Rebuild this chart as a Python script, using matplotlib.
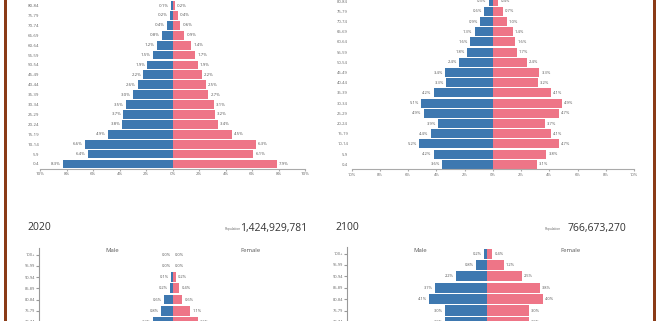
import matplotlib
matplotlib.use("Agg")
import matplotlib.pyplot as plt
from matplotlib.patches import Rectangle

plt.rcParams['font.family'] = ['Open Sans', 'DejaVu Sans']

# age groups (bottom to top) for the two top pyramids
ages_top = ['0-4', '5-9', '10-14', '15-19', '20-24', '25-29', '30-34', '35-39',
            '40-44', '45-49', '50-54', '55-59', '60-64', '65-69', '70-74', '75-79', '80-84']

# top-left pyramid (percent of population)
tl_male = [8.3, 6.4, 6.6, 4.9, 3.8, 3.7, 3.5, 3.0, 2.6, 2.2, 1.9, 1.5, 1.2, 0.8, 0.4, 0.2, 0.1]
tl_female = [7.9, 6.1, 6.3, 4.5, 3.4, 3.2, 3.1, 2.7, 2.5, 2.2, 1.9, 1.7, 1.4, 0.9, 0.6, 0.4, 0.2]

# top-right pyramid
tr_male = [3.6, 4.2, 5.2, 4.4, 3.9, 4.9, 5.1, 4.2, 3.3, 3.4, 2.4, 1.8, 1.6, 1.3, 0.9, 0.6, 0.3]
tr_female = [3.1, 3.8, 4.7, 4.1, 3.7, 4.7, 4.9, 4.1, 3.2, 3.3, 2.4, 1.7, 1.6, 1.4, 1.0, 0.7, 0.4]

# bottom pyramids, only the oldest groups are visible
ages_bottom = ['70-74', '75-79', '80-84', '85-89', '90-94', '95-99', '100+']
m2020 = [1.3, 0.8, 0.6, 0.2, 0.1, 0.0, 0.0]
f2020 = [1.6, 1.1, 0.6, 0.4, 0.2, 0.0, 0.0]
m2100 = [3.0, 3.0, 4.1, 3.7, 2.2, 0.8, 0.2]
f2100 = [3.0, 3.0, 4.0, 3.8, 2.5, 1.2, 0.4]

titles = ['2020', '2100']
populations = ['1,424,929,781', '766,673,270']

MALE = '#3e78b0'
FEMALE = '#ee7587'
GREY = '#666666'

W, H = 666, 321
fig = plt.figure(figsize=(W / 100, H / 100), dpi=100)


def px_axes(x0, y0, x1, y1):
    return fig.add_axes([x0 / W, 1 - y1 / H, (x1 - x0) / W, (y1 - y0) / H])


def pyramid(ax, ages, male, female, lim, fs=3.2):
    y = list(range(len(ages)))
    ax.barh(y, [-v for v in male], height=0.88, color=MALE, linewidth=0)
    ax.barh(y, female, height=0.88, color=FEMALE, linewidth=0)
    for i in y:
        ax.annotate(f'{male[i]:.1f}%', (-male[i], i), xytext=(-1.5, 0),
                    textcoords='offset points', ha='right', va='center',
                    fontsize=fs, color='#555555')
        ax.annotate(f'{female[i]:.1f}%', (female[i], i), xytext=(1.5, 0),
                    textcoords='offset points', ha='left', va='center',
                    fontsize=fs, color='#555555')
    ax.set_xlim(-lim, lim)
    ax.set_yticks(y)
    ax.set_yticklabels(ages)
    for s in ['top', 'right']:
        ax.spines[s].set_visible(False)


# top-left
ax1 = px_axes(40, 0, 305, 168.9)
pyramid(ax1, ages_top, tl_male, tl_female, 10)
ax1.set_ylim(-0.5, 16.56)
ax1.set_xticks(range(-10, 11, 2))
ax1.set_xticklabels([f'{abs(t)}%' for t in range(-10, 11, 2)])
ax1.spines['left'].set_visible(False)
ax1.spines['bottom'].set_color('#aaaaaa')
ax1.tick_params(axis='y', length=0, pad=0.6, labelsize=3.2, labelcolor=GREY)
ax1.tick_params(axis='x', length=1.5, pad=1, labelsize=3.2, labelcolor=GREY, color='#aaaaaa')

# top-right
ax2 = px_axes(351.7, 0, 634, 169.4)
pyramid(ax2, ages_top, tr_male, tr_female, 10, fs=3.0)
ax2.set_ylim(-0.5, 16.11)
ax2.set_xticks(range(-10, 11, 2))
ax2.set_xticklabels([f'{abs(t)}%' for t in range(-10, 11, 2)])
ax2.spines['left'].set_visible(False)
ax2.spines['bottom'].set_color('#aaaaaa')
ax2.tick_params(axis='y', length=0, pad=2.6, labelsize=3.0, labelcolor=GREY)
ax2.tick_params(axis='x', length=1.5, pad=1, labelsize=3.0, labelcolor=GREY, color='#aaaaaa')

# bottom pyramids
boxes = [(39, 248, 307, 333.1, 8.65, m2020, f2020, 27, 307, 105, 240),
         (346.7, 246.7, 626.7, 333.3, 10, m2100, f2100, 335, 626, 413, 560)]
for k, (x0, y0, x1, y1, lim, m, f, tx, px, mx, fx) in enumerate(boxes):
    ax = px_axes(x0, y0, x1, y1)
    pyramid(ax, ages_bottom, m, f, lim, fs=2.9)
    ax.set_ylim(-1, 6.6)
    ax.set_xticks([])
    ax.spines['bottom'].set_visible(False)
    ax.spines['left'].set_color('#999999')
    ax.tick_params(axis='y', length=2.2, pad=0.6, labelsize=2.9,
                   labelcolor=GREY, color='#999999')
    fig.text(tx / W, 1 - 228 / H, titles[k], fontsize=7.5, color='#333333',
             ha='left', va='center')
    fig.text(px / W, 1 - 228 / H, populations[k], fontsize=7.5, color='#333333',
             ha='right', va='center')
    fig.text((px - 66 if k == 0 else px - 65) / W, 1 - 229 / H, 'Population',
             fontsize=2.3, color=GREY, ha='right', va='center')
    fig.text(mx / W, 1 - 251 / H, 'Male', fontsize=4.3, color='#555555',
             ha='left', va='center')
    fig.text(fx / W, 1 - 251 / H, 'Female', fontsize=4.3, color='#555555',
             ha='left', va='center')

# brown frame around the screenshot
for xl in (3.5, 653):
    fig.add_artist(Rectangle((xl / W, 0), 3.3 / W, 1, transform=fig.transFigure,
                             color='#8a3b17', lw=0))

fig.savefig('out.png', dpi=100)
